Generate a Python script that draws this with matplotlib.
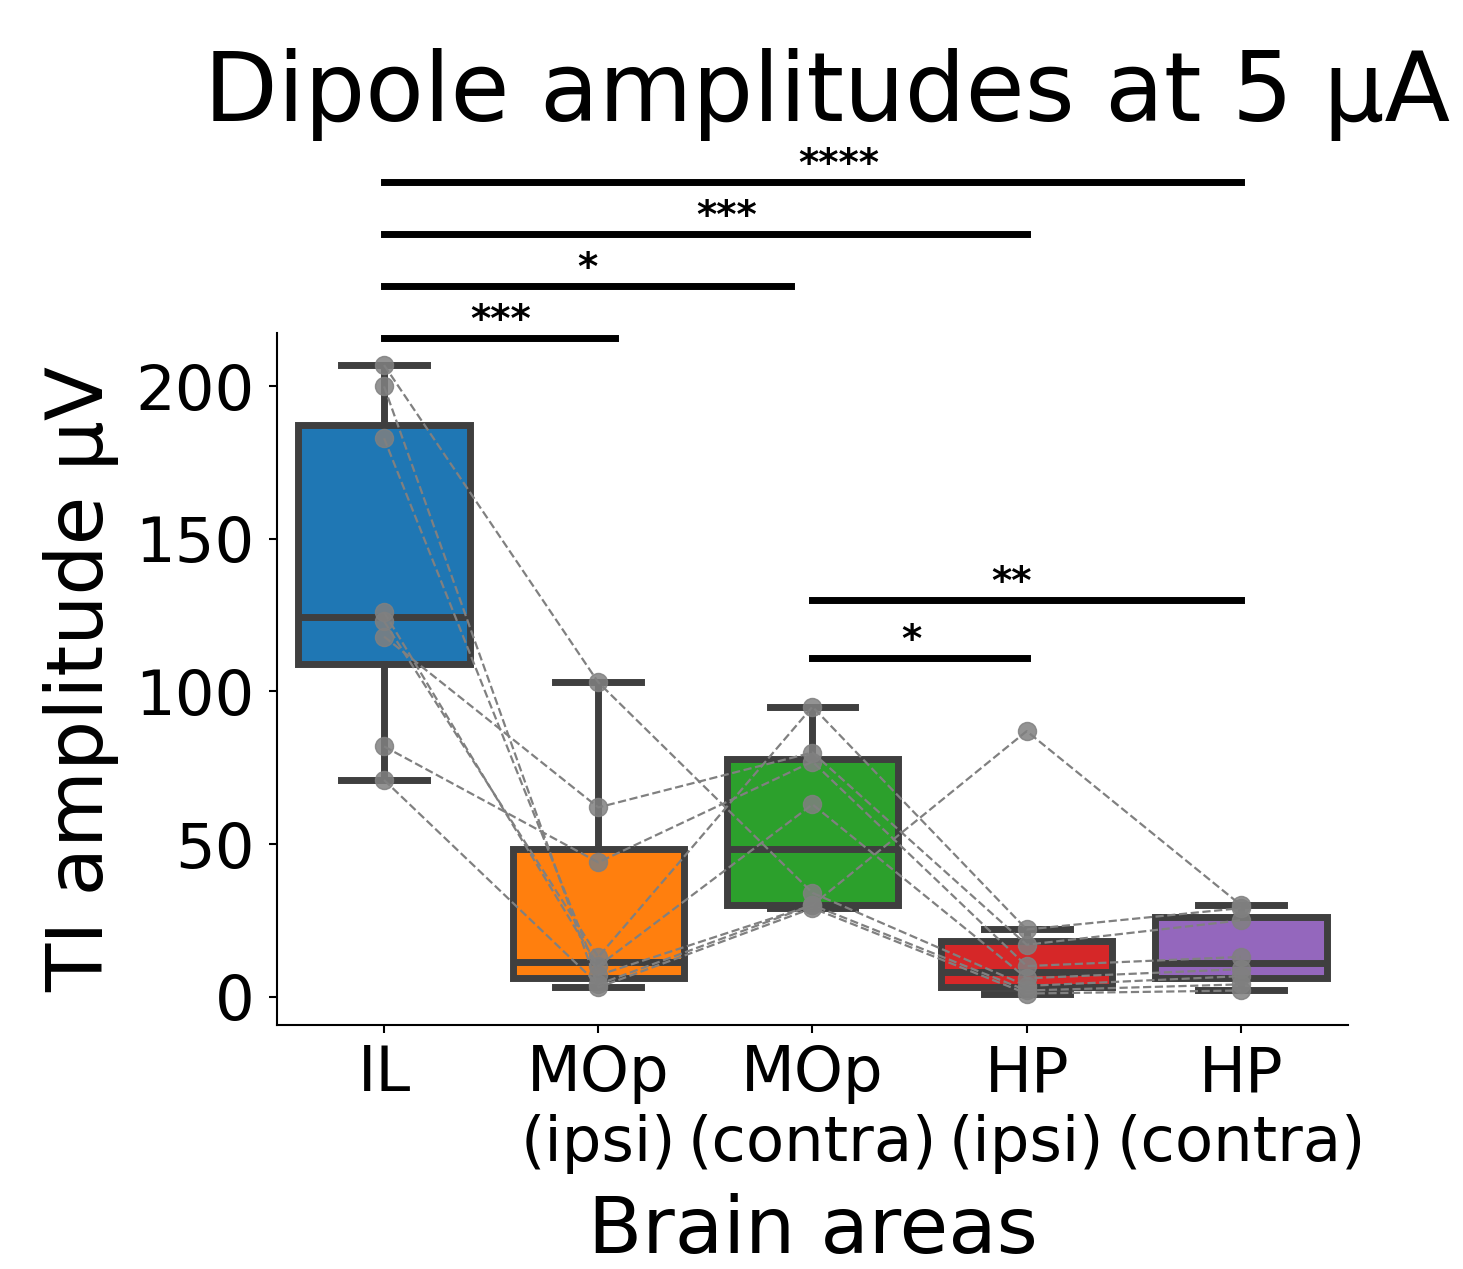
import numpy as np
import matplotlib.pyplot as plt

# 1. Data (one value per animal, same animal order in every area)
areas = ["IL", "MOp\n(ipsi)", "MOp\n(contra)", "HP\n(ipsi)", "HP\n(contra)"]
il = [207, 118, 82, 71, 200, 183, 126, 123]
mop_ipsi = [103, 62, 44, 4, 3, 7, 10, 13]
mop_contra = [34, 80, 77, 30, 29, 30, 63, 95]
hp_ipsi = [3.5, 17, 10, 2, 1, 87, 6, 22]
hp_contra = [6.7, 25, 13, 4, 2, 30, 9, 29]

box_colors = ["#1f77b4", "#ff7f0e", "#2ca02c", "#d62728", "#9467bd"]

# significance bars: (from, to, height, stars, star position)
sig_x1 = [0, 0, 0, 0, 2, 2]
sig_x2 = [1.08, 1.9, 3, 4, 3, 4]
sig_y = [216, 233, 250, 267, 111, 130]
sig_txt = ["***", "*", "***", "****", "*", "**"]
sig_tx = [0.545, 0.95, 1.6, 2.125, 2.46, 2.93]

data = [il, mop_ipsi, mop_contra, hp_ipsi, hp_contra]
pos = np.arange(len(areas))

# 2. Figure
fig = plt.figure(figsize=(14.63, 12.69), dpi=100)
ax = fig.add_axes([0.1893, 0.1923, 0.7321, 0.5453])

edge = "#3f3f3f"
bp = ax.boxplot(data, positions=pos, widths=0.8, patch_artist=True,
                showfliers=False, whis=1.5,
                boxprops=dict(edgecolor=edge, linewidth=5),
                whiskerprops=dict(color=edge, linewidth=5),
                capprops=dict(color=edge, linewidth=5),
                medianprops=dict(color=edge, linewidth=5),
                zorder=2)
for patch, c in zip(bp["boxes"], box_colors):
    patch.set_facecolor(c)

# paired lines per animal
vals = np.array(data)
for k in range(vals.shape[1]):
    ax.plot(pos, vals[:, k], ls="--", color="grey", lw=1.6, zorder=3)
    ax.plot(pos, vals[:, k], ls="none", marker="o", ms=13,
            color="grey", alpha=0.85, zorder=4)

ax.set_xlim(-0.5, 4.5)
ax.set_ylim(-9.3, 217.5)
ax.set_xticks(pos)
ax.set_xticklabels(areas, fontsize=45, linespacing=1.2)
ax.set_yticks([0, 50, 100, 150, 200])
ax.tick_params(axis="y", labelsize=45, width=1.5, length=6, pad=10)
ax.tick_params(axis="x", width=1.5, length=6, pad=8)
ax.spines["top"].set_visible(False)
ax.spines["right"].set_visible(False)
ax.spines["left"].set_linewidth(1.5)
ax.spines["bottom"].set_linewidth(1.5)

ax.set_ylabel("TI amplitude µV", fontsize=57, labelpad=12)
ax.set_xlabel("Brain areas", fontsize=57, labelpad=14)

for x1, x2, y, t, tx in zip(sig_x1, sig_x2, sig_y, sig_txt, sig_tx):
    ax.plot([x1, x2], [y, y], color="black", lw=5, clip_on=False, zorder=5)
    ax.text(tx, y - 0.8, t, ha="center", va="bottom", fontsize=28,
            fontweight="bold", clip_on=False)

fig.text(0.565, 0.905, "Dipole amplitudes at 5 µA", ha="center",
         va="baseline", fontsize=69)

plt.savefig("out.png", dpi=100)
